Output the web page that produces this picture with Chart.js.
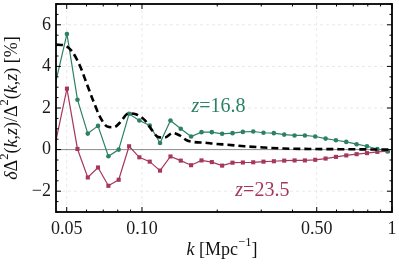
<!DOCTYPE html>
<html>
<head>
<meta charset="utf-8">
<script src="https://cdn.jsdelivr.net/npm/chart.js@4.4.0/dist/chart.umd.min.js"></script>
<style>
  html, body { margin: 0; padding: 0; background: #fff; }
</style>
</head>
<body>
<canvas id="chart" width="399" height="268"></canvas>
<script>
// k bins shared by both redshift series
const kBins = [0.0445, 0.0501, 0.0552, 0.0607, 0.0667, 0.0734, 0.0807, 0.0888, 0.0976, 0.1074,
               0.1181, 0.1300, 0.1429, 0.1572, 0.1730, 0.1903, 0.2092, 0.2302, 0.2532, 0.2786,
               0.3062, 0.3369, 0.3706, 0.4077, 0.4483, 0.4931, 0.5425, 0.5968, 0.6563, 0.7219,
               0.7942, 0.8736, 0.9607];
const deltaZ168 = [2.9, 5.56, 2.4, 0.77, 1.14, -0.32, 0.0, 1.72, 1.4, 1.16,
                   0.32, 1.4, 1.0, 0.63, 0.84, 0.84, 0.76, 0.79, 0.85, 0.87,
                   0.81, 0.79, 0.72, 0.68, 0.68, 0.63, 0.53, 0.45, 0.37, 0.26,
                   0.16, 0.03, -0.08];
const deltaZ235 = [0.0, 2.93, 0.03, -1.34, -0.86, -1.74, -1.45, 0.16, -0.37, -0.58,
                   -1.01, -0.33, -0.53, -0.75, -0.52, -0.6, -0.77, -0.63, -0.62, -0.61,
                   -0.58, -0.56, -0.53, -0.52, -0.52, -0.49, -0.43, -0.35, -0.28, -0.22,
                   -0.17, -0.11, -0.08];

// dashed reference curve
const kRef = [0.0453, 0.0492, 0.0525, 0.0565, 0.0602, 0.0641, 0.0681, 0.0724, 0.0770, 0.0817,
              0.0882, 0.0945, 0.1026, 0.1094, 0.1163, 0.1233, 0.1327, 0.1415, 0.1509, 0.1624,
              0.1780, 0.1951, 0.2199, 0.2570, 0.3087, 0.3709, 0.4666, 0.6148, 0.7733, 0.9732, 1.0];
const deltaRef = [5.05, 5.0, 4.72, 4.02, 3.15, 2.29, 1.55, 1.12, 1.07, 1.3,
                  1.74, 1.7, 1.42, 0.95, 0.6, 0.58, 0.8, 0.68, 0.45, 0.36,
                  0.33, 0.28, 0.23, 0.16, 0.1, 0.05, 0.03, 0.02, 0.01, 0.0, 0.0];

const xTicks = [0.05, 0.1, 0.5, 1];
const xTickLabels = ['0.05', '0.10', '0.50', '1'];
const xMinorTicks = [0.06, 0.07, 0.08, 0.09, 0.2, 0.3, 0.4, 0.6, 0.7, 0.8, 0.9];
const yTicks = [-2, 0, 2, 4, 6];
const yTickLabels = ['\u22122', '0', '2', '4', '6'];

const GREEN = '#2c8066';
const RED = '#a6375c';
const FONT = '"Liberation Serif", "DejaVu Serif", serif';

function drawRich(ctx, segs, x, y, size, color) {
    let total = 0;
    const parts = segs.map(s => {
        const fs = s.sup ? size * 0.7 : size;
        const font = (s.it ? 'italic ' : '') + fs + 'px ' + FONT;
        ctx.font = font;
        const w = ctx.measureText(s.t).width;
        total += w;
        return { t: s.t, font, w, dy: s.sup ? -size * 0.38 : 0 };
    });
    let cx = x - total / 2;
    ctx.fillStyle = color;
    ctx.textAlign = 'left';
    ctx.textBaseline = 'middle';
    parts.forEach(p => {
        ctx.font = p.font;
        ctx.fillText(p.t, cx, y + p.dy);
        cx += p.w;
    });
}

function line(ctx, x1, y1, x2, y2) {
    ctx.beginPath();
    ctx.moveTo(x1, y1);
    ctx.lineTo(x2, y2);
    ctx.stroke();
}

const framePlugin = {
    id: 'frame',
    beforeDatasetsDraw(chart) {
        const { ctx, chartArea: a, scales: { x, y } } = chart;
        ctx.save();
        ctx.strokeStyle = '#e4e4e4';
        ctx.lineWidth = 0.8;
        ctx.setLineDash([3, 3]);
        xTicks.forEach(v => {
            const p = x.getPixelForValue(v);
            if (p > a.left + 1 && p < a.right - 1) line(ctx, p, a.top, p, a.bottom);
        });
        yTicks.forEach(v => {
            if (v === 0) return;
            const p = y.getPixelForValue(v);
            line(ctx, a.left, p, a.right, p);
        });
        ctx.setLineDash([]);
        ctx.strokeStyle = '#8c8c8c';
        ctx.lineWidth = 1;
        const z = y.getPixelForValue(0);
        line(ctx, a.left, z, a.right, z);
        ctx.restore();
    },
    afterDatasetsDraw(chart) {
        const { ctx, chartArea: a, scales: { x, y } } = chart;
        ctx.save();
        ctx.strokeStyle = '#000';
        ctx.lineWidth = 1;
        // y ticks, inward on both sides
        for (let v = -3; v <= 7; v += 0.5) {
            const p = y.getPixelForValue(v);
            const len = yTicks.includes(v) ? 5 : 2.5;
            line(ctx, a.left, p, a.left + len, p);
            line(ctx, a.right, p, a.right - len, p);
        }
        // x ticks, inward top and bottom
        xTicks.concat(xMinorTicks).forEach(v => {
            const p = x.getPixelForValue(v);
            const len = xTicks.includes(v) ? 5 : 2.5;
            line(ctx, p, a.bottom, p, a.bottom - len);
            line(ctx, p, a.top, p, a.top + len);
        });
        ctx.lineWidth = 1.8;
        ctx.strokeRect(a.left, a.top, a.right - a.left, a.bottom - a.top);

        // series labels
        drawRich(ctx, [{ t: 'z', it: true }, { t: '=16.8' }],
            x.getPixelForValue(0.2024), y.getPixelForValue(2.08), 20, GREEN);
        drawRich(ctx, [{ t: 'z', it: true }, { t: '=23.5' }],
            x.getPixelForValue(0.303), y.getPixelForValue(-1.98), 20, RED);

        // axis titles
        drawRich(ctx, [{ t: 'k', it: true }, { t: ' [Mpc' }, { t: '\u22121', sup: true }, { t: ']' }],
            (a.left + a.right) / 2 - 2, 250, 18, '#111');
        ctx.translate(12, (a.top + a.bottom) / 2);
        ctx.rotate(-Math.PI / 2);
        drawRich(ctx, [
            { t: '\u03b4', it: true }, { t: '\u0394' }, { t: '2', sup: true }, { t: '(' },
            { t: 'k', it: true }, { t: ',' }, { t: 'z', it: true }, { t: ')/\u0394' },
            { t: '2', sup: true }, { t: '(' }, { t: 'k', it: true }, { t: ',' },
            { t: 'z', it: true }, { t: ') [%]' }
        ], 0, 0, 18, '#111');
        ctx.restore();
    }
};

const ctx = document.getElementById('chart').getContext('2d');
new Chart(ctx, {
    type: 'line',
    data: {
        datasets: [
            {
                data: kBins.map((k, i) => ({ x: k, y: deltaZ168[i] })),
                borderColor: GREEN,
                backgroundColor: GREEN,
                borderWidth: 1.2,
                pointStyle: 'circle',
                pointRadius: 2.3,
                pointBorderWidth: 0,
                clip: 0,
                order: 2
            },
            {
                data: kBins.map((k, i) => ({ x: k, y: deltaZ235[i] })),
                borderColor: RED,
                backgroundColor: RED,
                borderWidth: 1.2,
                pointStyle: 'rect',
                pointRadius: 2.9,
                pointBorderWidth: 0,
                clip: 0,
                order: 3
            },
            {
                data: kRef.map((k, i) => ({ x: k, y: deltaRef[i] })),
                borderColor: '#000',
                borderWidth: 2.6,
                borderDash: [7, 4],
                pointRadius: 0,
                cubicInterpolationMode: 'monotone',
                clip: 0,
                order: 1
            }
        ]
    },
    options: {
        responsive: false,
        animation: false,
        layout: { padding: { top: 2, right: 7, left: 0, bottom: 0 } },
        plugins: { legend: { display: false }, tooltip: { enabled: false } },
        scales: {
            x: {
                type: 'logarithmic',
                min: 0.0453,
                max: 1,
                grid: { display: false, drawTicks: false },
                border: { display: false },
                afterBuildTicks: s => { s.ticks = xTicks.map(v => ({ value: v })); },
                afterFit: s => { s.height = 56; s.paddingLeft = 0; s.paddingRight = 0; },
                ticks: {
                    autoSkip: false,
                    maxRotation: 0,
                    padding: 6,
                    color: '#1a1a1a',
                    font: { family: FONT, size: 18 },
                    callback: v => xTickLabels[xTicks.indexOf(v)]
                }
            },
            y: {
                min: -3,
                max: 7,
                grid: { display: false, drawTicks: false },
                border: { display: false },
                afterBuildTicks: s => { s.ticks = yTicks.map(v => ({ value: v })); },
                afterFit: s => { s.width = 56; s.paddingTop = 0; s.paddingBottom = 0; },
                ticks: {
                    padding: 5,
                    color: '#1a1a1a',
                    font: { family: FONT, size: 18 },
                    callback: v => yTickLabels[yTicks.indexOf(v)]
                }
            }
        }
    },
    plugins: [framePlugin]
});
</script>
</body>
</html>
